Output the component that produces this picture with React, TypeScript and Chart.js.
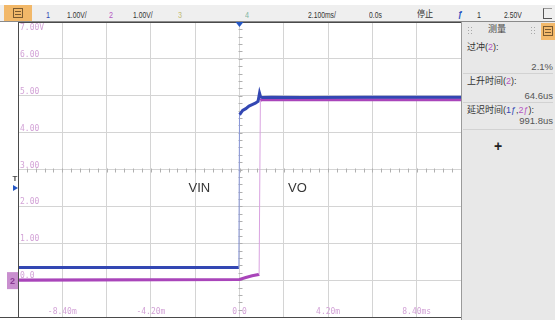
import React, { useEffect, useRef } from "react";
import { Chart, registerables } from "chart.js";

Chart.register(...registerables);

// ---- data (time in ms, volts) ----
const vinTime = [-10.5, -0.03, 0.0, 0.05, 0.15, 0.3, 0.45, 0.6, 0.75, 0.88, 0.95, 1.0, 1.1, 1.5, 3.0, 6.0, 10.5];
const vinVolts = [0.34, 0.34, 4.55, 4.52, 4.6, 4.65, 4.72, 4.76, 4.8, 4.85, 5.07, 4.97, 4.95, 4.96, 4.95, 4.96, 4.96];
const voTime = [-10.5, 0.0, 0.3, 0.6, 0.9, 0.93, 0.99, 1.05, 1.3, 2.0, 5.0, 10.5];
const voVolts = [0.0, 0.02, 0.07, 0.12, 0.15, 0.16, 4.87, 4.89, 4.89, 4.89, 4.89, 4.89];

const xMinMs = -10.5;
const xMaxMs = 10.5;
const yMinV = -1;
const yMaxV = 7;
const xGridMs = [-10.5, -8.4, -6.3, -4.2, -2.1, 0, 2.1, 4.2, 6.3, 8.4, 10.5];
const yGridV = [-1, 0, 1, 2, 3, 4, 5, 6, 7];
const xTickValues = [-8.4, -4.2, 0, 4.2, 8.4];
const xTickLabels = ["-8.40m", "-4.20m", "0.0", "4.20m", "8.40ms"];
const yTickValues = [7, 6, 5, 4, 3, 2, 1, 0];
const yTickLabels = ["7.00V", "6.00", "5.00", "4.00", "3.00", "2.00", "1.00", "0.0"];
const traceNames = ["VIN", "VO"];
const annotationTimes = [-1.9, 2.75];
const annotationVolts = [2.5, 2.5];
const triggerLevelV = 2.5;
const ch2GroundV = 0;

const BLUE = "#3347b3";
const PURPLE = "#a945ba";
const LABEL_PINK = "#d3a3d7";

const steep = (c: any) => Math.abs(c.p1.parsed.y - c.p0.parsed.y) > 2;

const decor = {
  id: "scopeDecor",
  beforeDatasetsDraw(chart: any) {
    const { ctx, chartArea: a, scales } = chart;
    const x = scales.x;
    const y = scales.y;
    ctx.save();
    // minor ticks on the centre lines
    ctx.strokeStyle = "#b0b0b0";
    ctx.lineWidth = 1;
    const cy = Math.round(y.getPixelForValue(3)) + 0.5;
    const cx = Math.round(x.getPixelForValue(0)) + 0.5;
    ctx.beginPath();
    for (let k = 0; k <= 50; k++) {
      const px = Math.round(x.getPixelForValue(xMinMs + (k * (xMaxMs - xMinMs)) / 50)) + 0.5;
      ctx.moveTo(px, cy - 2);
      ctx.lineTo(px, cy + 2);
    }
    for (let k = 0; k <= 40; k++) {
      const py = Math.round(y.getPixelForValue(yMinV + (k * (yMaxV - yMinV)) / 40)) + 0.5;
      ctx.moveTo(cx - 2, py);
      ctx.lineTo(cx + 2, py);
    }
    ctx.stroke();

    // tick labels inside the plot
    ctx.fillStyle = LABEL_PINK;
    ctx.font = '8px "DejaVu Sans Mono", monospace';
    ctx.textAlign = "left";
    yTickValues.forEach((v, i) => {
      const py = y.getPixelForValue(v);
      if (i === 0) {
        ctx.textBaseline = "top";
        ctx.fillText(yTickLabels[i], a.left + 2, py + 2);
      } else {
        ctx.textBaseline = "alphabetic";
        ctx.fillText(yTickLabels[i], a.left + 2, py - 2);
      }
    });
    ctx.textAlign = "center";
    ctx.textBaseline = "alphabetic";
    xTickValues.forEach((v, i) => {
      ctx.fillText(xTickLabels[i], x.getPixelForValue(v), a.bottom - 3);
    });
    ctx.restore();
  },
  afterDatasetsDraw(chart: any) {
    const { ctx, chartArea: a, scales } = chart;
    const x = scales.x;
    const y = scales.y;
    ctx.save();
    // plot frame
    ctx.strokeStyle = "#4a4a4a";
    ctx.lineWidth = 1;
    ctx.beginPath();
    ctx.moveTo(Math.round(a.left) + 0.5, a.top);
    ctx.lineTo(Math.round(a.left) + 0.5, a.bottom);
    ctx.moveTo(a.left, Math.round(a.top) + 0.5);
    ctx.lineTo(a.right, Math.round(a.top) + 0.5);
    ctx.moveTo(0, Math.round(a.bottom) + 0.5);
    ctx.lineTo(a.right, Math.round(a.bottom) + 0.5);
    ctx.stroke();

    // trace annotations
    ctx.fillStyle = "#363636";
    ctx.font = '13px "Liberation Sans", Arial, sans-serif';
    ctx.textAlign = "center";
    ctx.textBaseline = "middle";
    traceNames.forEach((n, i) => {
      ctx.fillText(n, x.getPixelForValue(annotationTimes[i]), y.getPixelForValue(annotationVolts[i]));
    });

    // trigger position marker (top)
    const tx = x.getPixelForValue(0);
    ctx.fillStyle = "#2456c4";
    ctx.beginPath();
    ctx.moveTo(tx - 4, a.top);
    ctx.lineTo(tx + 4, a.top);
    ctx.lineTo(tx, a.top + 5);
    ctx.closePath();
    ctx.fill();

    // trigger level marker (left)
    const ty = y.getPixelForValue(triggerLevelV);
    ctx.beginPath();
    ctx.moveTo(13, ty - 3);
    ctx.lineTo(18, ty);
    ctx.lineTo(13, ty + 3);
    ctx.closePath();
    ctx.fill();
    ctx.fillStyle = "#444";
    ctx.font = 'bold 8px "Liberation Sans", Arial, sans-serif';
    ctx.textAlign = "center";
    ctx.textBaseline = "middle";
    ctx.fillText("T", 15, ty - 9);

    // channel 2 ground marker
    const gy = y.getPixelForValue(ch2GroundV);
    ctx.fillStyle = "#c98fcf";
    ctx.fillRect(7, gy - 8, 11, 17);
    ctx.fillStyle = "#8a3c95";
    ctx.font = 'bold 9px "Liberation Sans", Arial, sans-serif';
    ctx.fillText("2", 12.5, gy + 1);
    ctx.restore();
  },
};

const FONT = '"Liberation Sans", "Noto Sans CJK SC", Arial, sans-serif';

function Txt(props: {
  x?: number;
  r?: number;
  y: number;
  size?: number;
  color?: string;
  sx?: number;
  bold?: boolean;
  children: React.ReactNode;
}) {
  const { x, r, y, size = 9, color = "#333", sx = 1, bold, children } = props;
  const style: React.CSSProperties = {
    position: "absolute",
    top: y,
    fontSize: size,
    lineHeight: 1,
    color,
    whiteSpace: "nowrap",
    fontWeight: bold ? "bold" : "normal",
    transform: `scaleX(${sx})`,
    transformOrigin: r !== undefined ? "right center" : "left center",
  };
  if (r !== undefined) style.right = r;
  else style.left = x;
  return <div style={style}>{children}</div>;
}

function Grip({ x, y }: { x: number; y: number }) {
  const dots = [];
  for (let i = 0; i < 3; i++) {
    for (let j = 0; j < 2; j++) {
      dots.push(
        <div
          key={`${i}-${j}`}
          style={{ position: "absolute", left: x + j * 3, top: y + i * 3, width: 1, height: 1, background: "#a8a8a8" }}
        />
      );
    }
  }
  return <>{dots}</>;
}

function ListIcon({ x, y, color }: { x: number; y: number; color: string }) {
  return (
    <div style={{ position: "absolute", left: x, top: y, width: 8, height: 8, border: `1px solid ${color}` }}>
      <div style={{ position: "absolute", left: 1, right: 1, top: 2, height: 1, background: color }} />
      <div style={{ position: "absolute", left: 1, right: 1, top: 5, height: 1, background: color }} />
    </div>
  );
}

export default function App() {
  const ref = useRef<HTMLCanvasElement | null>(null);

  useEffect(() => {
    if (!ref.current) return;
    const chart = new Chart(ref.current, {
      type: "line",
      data: {
        datasets: [
          {
            label: traceNames[0],
            data: vinTime.map((t, i) => ({ x: t, y: vinVolts[i] })),
            borderColor: BLUE,
            borderWidth: 3,
            pointRadius: 0,
            tension: 0,
            segment: {
              borderWidth: (c: any) => (steep(c) ? 1 : 3),
              borderColor: (c: any) => (steep(c) ? "#8896d8" : BLUE),
            },
          },
          {
            label: traceNames[1],
            data: voTime.map((t, i) => ({ x: t, y: voVolts[i] })),
            borderColor: PURPLE,
            borderWidth: 3,
            pointRadius: 0,
            tension: 0,
            segment: {
              borderWidth: (c: any) => (steep(c) ? 1 : 3),
              borderColor: (c: any) => (steep(c) ? "#d9a2e0" : PURPLE),
            },
          },
        ],
      },
      options: {
        animation: false,
        responsive: false,
        devicePixelRatio: 1,
        events: [],
        layout: { padding: { left: 18, top: 22, right: 94, bottom: 3 } },
        plugins: { legend: { display: false }, tooltip: { enabled: false } },
        scales: {
          x: {
            type: "linear",
            min: xMinMs,
            max: xMaxMs,
            afterBuildTicks: (s: any) => {
              s.ticks = xGridMs.map((v) => ({ value: v }));
            },
            ticks: { display: false },
            grid: { color: "#d4d4d4", drawTicks: false, lineWidth: 1 },
            border: { display: false },
          },
          y: {
            type: "linear",
            min: yMinV,
            max: yMaxV,
            afterBuildTicks: (s: any) => {
              s.ticks = yGridV.map((v) => ({ value: v }));
            },
            ticks: { display: false },
            grid: { color: "#d4d4d4", drawTicks: false, lineWidth: 1 },
            border: { display: false },
          },
        },
      },
      plugins: [decor],
    });
    return () => chart.destroy();
  }, []);

  return (
    <div
      style={{
        position: "fixed",
        left: 0,
        top: 0,
        width: 555,
        height: 320,
        background: "#fff",
        overflow: "hidden",
        fontFamily: FONT,
      }}
    >
      <canvas ref={ref} width={555} height={320} style={{ position: "absolute", left: 0, top: 0 }} />

      {/* top status bar */}
      <div
        style={{
          position: "absolute",
          left: 0,
          top: 5,
          width: 555,
          height: 16,
          background: "#efefef",
          borderBottom: "1px solid #8a8a8a",
        }}
      />
      <div style={{ position: "absolute", left: 4, top: 5, width: 28, height: 16, background: "#f2b869" }} />
      <ListIcon x={13} y={8} color="#7a5a30" />
      <Txt x={46} y={11} color="#3347b3" sx={0.8}>1</Txt>
      <Txt x={67} y={11} color="#333" sx={0.75}>1.00V/</Txt>
      <Txt x={109} y={11} color="#b657c2" sx={0.8}>2</Txt>
      <Txt x={133} y={11} color="#333" sx={0.75}>1.00V/</Txt>
      <Txt x={178} y={11} color="#c4bd78" sx={0.8}>3</Txt>
      <Txt x={245} y={11} color="#7fb7a2" sx={0.8}>4</Txt>
      <Txt x={308} y={11} color="#333" sx={0.75}>2.100ms/</Txt>
      <Txt x={369} y={11} color="#333" sx={0.75}>0.0s</Txt>
      <Txt x={417} y={10} color="#333" sx={0.9}>停止</Txt>
      <Txt x={458} y={10} color="#2a4fc0" bold sx={0.9}>ƒ</Txt>
      <Txt x={477} y={11} color="#333" sx={0.8}>1</Txt>
      <Txt x={504} y={11} color="#333" sx={0.75}>2.50V</Txt>
      <div
        style={{
          position: "absolute",
          left: 543,
          top: 8,
          width: 8,
          height: 9,
          borderLeft: "1px solid #555",
          borderBottom: "1px solid #555",
          borderTop: "1px solid #999",
        }}
      />

      {/* measurement side panel */}
      <div
        style={{
          position: "absolute",
          left: 461,
          top: 22,
          width: 94,
          height: 298,
          background: "#e8e8e8",
          borderLeft: "1px solid #9a9a9a",
        }}
      />
      <Grip x={468} y={27} />
      <Grip x={531} y={27} />
      <Txt x={488} y={25} color="#444">测量</Txt>
      <div style={{ position: "absolute", left: 541, top: 23, width: 14, height: 17, background: "#f3b96b" }} />
      <ListIcon x={543} y={26} color="#7a5a30" />

      <Txt x={467} y={43} color="#333">
        过冲(<span style={{ color: "#b657c2" }}>2</span>):
      </Txt>
      <Txt r={2} y={62} size={9.5} color="#555">2.1%</Txt>
      <div style={{ position: "absolute", left: 463, top: 73, width: 90, height: 1, background: "#d2d2d2" }} />
      <Txt x={467} y={77} color="#333">
        上升时间(<span style={{ color: "#b657c2" }}>2</span>):
      </Txt>
      <Txt r={2} y={91} size={9.5} color="#555">64.6us</Txt>
      <div style={{ position: "absolute", left: 463, top: 102, width: 90, height: 1, background: "#d2d2d2" }} />
      <Txt x={467} y={106} color="#333">
        延迟时间(<span style={{ color: "#3347b3" }}>1ƒ</span>,<span style={{ color: "#b657c2" }}>2ƒ</span>):
      </Txt>
      <Txt r={2} y={116} size={9.5} color="#555">991.8us</Txt>
      <div style={{ position: "absolute", left: 463, top: 129, width: 90, height: 1, background: "#d2d2d2" }} />
      <Txt x={494} y={139} size={14} bold color="#222">+</Txt>
    </div>
  );
}
